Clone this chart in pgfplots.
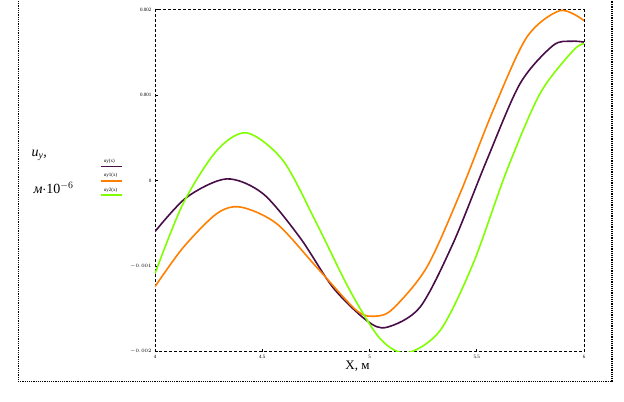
\documentclass[border=0pt]{standalone}
\usepackage{pgfplots}
\pgfplotsset{compat=1.18}
\usepackage{fontspec}
\setmainfont{Liberation Serif}
\definecolor{cpur}{RGB}{72,14,72}
\definecolor{corg}{RGB}{255,128,0}
\definecolor{cgrn}{RGB}{128,255,0}
\begin{document}
\begin{tikzpicture}[x=1pt,y=1pt]
\path (0pt,0pt) rectangle (624pt,401pt);
\draw[densely dotted, line width=1.2pt] (18pt,20pt) -- (612pt,20pt) -- (612pt,401pt);
\draw[densely dotted, line width=0.8pt] (18pt,20pt) -- (18pt,401pt);
\begin{axis}[
  at={(155pt,50pt)}, anchor=south west,
  scale only axis, width=429pt, height=342pt,
  xmin=4, xmax=6, ymin=-2, ymax=2,
  axis line style={densely dashed, line width=0.6pt},
  xtick={4,4.5,5,5.5,6},
  xticklabels={4,4.5,5,5.5,6},
  ytick={-2,-1,0,1,2},
  yticklabels={$-0.002$,$-0.001$,0,0.001,0.002},
  tick style={black, line width=0.6pt},
  major tick length=3pt,
  tick align=inside,
  xtick pos=bottom, ytick pos=left,
  tick label style={font=\fontsize{5}{6}\selectfont},
  xlabel={X, м},
  xlabel style={font=\fontsize{13}{14}\selectfont, yshift=4pt, xshift=-12pt},
  legend style={at={(-0.135,0.575)}, anchor=north west, draw=none, fill=none,
    font=\fontsize{5}{6}\selectfont, /tikz/column sep=-21pt, row sep=4pt,
    cells={anchor=west}},
  legend image code/.code={\draw[#1, line width=1.6pt] (0pt,-5pt) -- (21pt,-5pt);},
]
\addplot[cpur, line width=1.6pt, smooth] coordinates {
(4.000,-0.596)(4.148,-0.195)(4.334,0.020)(4.503,-0.152)(4.676,-0.667)(4.830,-1.251)
(4.987,-1.637)(5.080,-1.716)(5.235,-1.482)(5.389,-0.737)(5.546,0.234)(5.702,1.135)
(5.855,1.579)(5.940,1.630)(6.000,1.620)};
\addlegendentry{uy(x)}
\addplot[corg, line width=1.6pt, smooth] coordinates {
(4.000,-1.240)(4.131,-0.784)(4.288,-0.386)(4.400,-0.310)(4.567,-0.503)(4.754,-1.014)
(4.940,-1.520)(5.030,-1.585)(5.110,-1.497)(5.267,-1.014)(5.422,-0.152)(5.576,0.819)
(5.733,1.676)(5.888,1.988)(6.000,1.871)};
\addlegendentry{uy1(x)}
\addplot[cgrn, line width=1.6pt, smooth] coordinates {
(4.000,-1.088)(4.131,-0.269)(4.288,0.351)(4.428,0.558)(4.597,0.234)(4.754,-0.503)
(4.909,-1.287)(5.050,-1.850)(5.173,-2.015)(5.329,-1.754)(5.483,-0.971)(5.640,0.117)
(5.795,1.018)(5.949,1.520)(6.000,1.602)};
\addlegendentry{uy2(x)}
\end{axis}
\node[anchor=west, font=\fontsize{14}{15}\selectfont\itshape] at (28pt,246pt) {u\textsubscript{y},};
\node[anchor=west, font=\fontsize{14}{15}\selectfont] at (30pt,214pt) {\textit{м}$\cdot$10\textsuperscript{$-6$}};
\end{tikzpicture}
\end{document}
